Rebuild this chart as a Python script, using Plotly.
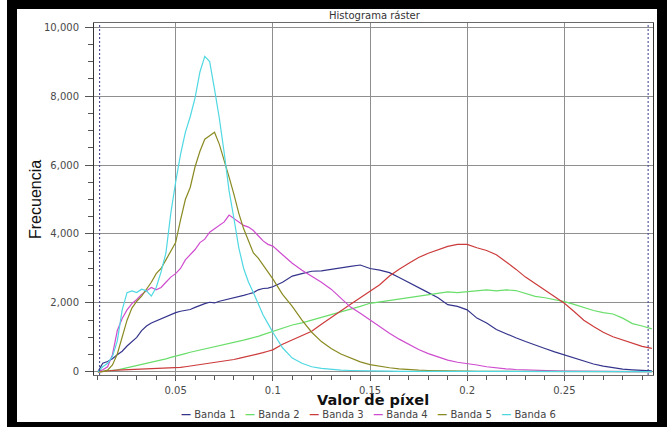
import plotly.graph_objects as go

# ---------------- data ----------------
pixel_values = [
    0.0100, 0.0125, 0.0150, 0.0175, 0.0200, 0.0225, 0.0250, 0.0275, 0.0300, 0.0325,
    0.0350, 0.0375, 0.0400, 0.0425, 0.0450, 0.0475, 0.0500, 0.0525, 0.0550, 0.0575,
    0.0600, 0.0625, 0.0650, 0.0675, 0.0700, 0.0725, 0.0750, 0.0775, 0.0800, 0.0825,
    0.0850, 0.0875, 0.0900, 0.0925, 0.0950, 0.0975, 0.1000,
    0.105, 0.110, 0.115, 0.120, 0.125, 0.130, 0.135, 0.140, 0.145, 0.150,
    0.155, 0.160, 0.165, 0.170, 0.175, 0.180, 0.185, 0.190, 0.195, 0.200,
    0.205, 0.210, 0.215, 0.220, 0.225, 0.230, 0.235, 0.240, 0.245, 0.250,
    0.255, 0.260, 0.265, 0.270, 0.275, 0.280, 0.285, 0.290, 0.295,
]

banda_1 = [
    0, 250, 300, 380, 500, 600, 750, 880, 1000, 1200,
    1330, 1420, 1480, 1560, 1620, 1680, 1720, 1760, 1790, 1810,
    1870, 1930, 1980, 2020, 2000, 2050, 2080, 2110, 2140, 2180,
    2220, 2260, 2300, 2380, 2420, 2430, 2470,
    2600, 2780, 2850, 2920, 2930, 2980, 3020, 3060, 3100, 3000,
    2950, 2880, 2740, 2600, 2450, 2300, 2150, 1950, 1900, 1800,
    1560, 1420, 1230, 1100, 990, 880, 770, 680, 580, 490,
    400, 300, 230, 170, 120, 80, 60, 40, 30,
]

banda_2 = [
    0, 10, 20, 40, 60, 90, 120, 150, 180, 210,
    240, 270, 300, 340, 380, 420, 450, 490, 530, 570,
    600, 640, 670, 700, 730, 760, 790, 820, 850, 880,
    920, 960, 990, 1030, 1080, 1130, 1170,
    1270, 1360, 1420, 1500, 1580, 1660, 1720, 1800, 1900, 1990,
    2030, 2070, 2110, 2150, 2190, 2230, 2270, 2320, 2300, 2330,
    2370, 2380, 2350, 2380, 2360, 2280, 2190, 2150, 2100, 2040,
    1960, 1860, 1780, 1720, 1680, 1560, 1400, 1330, 1250,
]

banda_3 = [
    0, 20, 30, 40, 50, 55, 60, 65, 70, 75,
    80, 85, 90, 95, 100, 105, 110, 130, 150, 170,
    185, 200, 220, 240, 260, 280, 300, 330, 360, 390,
    420, 450, 480, 520, 560, 600, 640,
    800, 920, 1050, 1180, 1380, 1580, 1780, 1960, 2150, 2330,
    2530, 2780, 2980, 3150, 3320, 3440, 3530, 3640, 3700, 3700,
    3600, 3520, 3400, 3200, 2980, 2750, 2560, 2350, 2170, 1990,
    1750, 1500, 1320, 1150, 1020, 920, 820, 740, 680,
]

banda_4 = [
    0, 60, 150, 500, 1200, 1550, 1800, 1980, 2100, 2250,
    2350, 2450, 2380, 2450, 2600, 2750, 2850, 3000, 3250, 3400,
    3550, 3750, 3850, 4050, 4150, 4250, 4350, 4550, 4450, 4350,
    4250, 4200, 4100, 3950, 3800, 3700, 3650,
    3400, 3150, 2950, 2780, 2600, 2400, 2150, 1880, 1700, 1500,
    1300, 1120, 950, 800, 650, 530, 430, 340, 280, 250,
    200, 150, 110, 90, 70, 55, 45, 35, 30, 25,
    20, 20, 15, 15, 15, 10, 10, 10, 10,
]

banda_5 = [
    0, 10, 50, 200, 520, 1000, 1500, 1850, 2050, 2200,
    2400, 2600, 2850, 3000, 3250, 3500, 3750, 4400, 5000, 5350,
    5950, 6400, 6750, 6850, 6950, 6600, 6150, 5650, 5150, 4600,
    4150, 3800, 3450, 3300, 3100, 2900, 2700,
    2250, 1900, 1500, 1150, 880, 680, 520, 400, 290, 210,
    160, 120, 90, 65, 50, 40, 30, 25, 20, 20,
    15, 15, 15, 10, 10, 10, 10, 10, 10, 10,
    10, 10, 10, 10, 10, 10, 10, 10, 10,
]

banda_6 = [
    0, 150, 250, 450, 900, 1800, 2300, 2350, 2300, 2400,
    2350, 2200, 2450, 2900, 3450, 4600, 5500, 6300, 6950, 7400,
    7950, 8700, 9150, 9000, 8200, 7350, 6350, 5250, 4450, 3600,
    3000, 2600, 2300, 1950, 1650, 1400, 1150,
    700, 400, 250, 150, 100, 70, 50, 40, 30, 25,
    20, 20, 15, 15, 15, 10, 10, 10, 10, 10,
    10, 10, 10, 10, 10, 10, 10, 10, 10, 10,
    10, 10, 10, 10, 10, 10, 10, 10, 10,
]

band_names = ["Banda 1", "Banda 2", "Banda 3", "Banda 4", "Banda 5", "Banda 6"]
band_series = [banda_1, banda_2, banda_3, banda_4, banda_5, banda_6]
band_colors = ["#34348c", "#6ade6a", "#cc3b3b", "#cf4ccf", "#8a8a22", "#4fd8e2"]

band_min = 0.0109   # dashed min marker
band_max = 0.2931   # dashed max marker

y_ticks = [0, 2000, 4000, 6000, 8000, 10000]
x_ticks = [0.05, 0.1, 0.15, 0.2, 0.25]

# ---------------- figure ----------------
W, H = 667, 427
L, R, T, B = 94, 14, 23, 52
PW, PH = W - L - R, H - T - B


def px_x(p):
    return (p - L) / PW


def px_y(p):
    return (H - B - p) / PH


fig = go.Figure()
for name, vals, col in zip(band_names, band_series, band_colors):
    fig.add_trace(go.Scatter(
        x=pixel_values, y=vals, mode="lines", name=name,
        line=dict(color=col, width=1.2), showlegend=False,
    ))

tickfont = dict(family="DejaVu Sans", size=10, color="#4a4a4a")

fig.update_layout(
    width=W, height=H,
    margin=dict(l=L, r=R, t=T, b=B, pad=0),
    paper_bgcolor="black",
    plot_bgcolor="white",
    xaxis=dict(
        range=[0.008, 0.2956], tickvals=x_ticks, ticktext=[str(v) for v in x_ticks],
        showgrid=True, gridcolor="#8f8f8f", gridwidth=1,
        ticks="outside", ticklen=5, tickcolor="#555", ticklabelstandoff=1,
        minor=dict(dtick=0.01, tick0=0, ticks="outside", ticklen=4, tickcolor="#555", showgrid=False),
        showline=True, linecolor="#6a6a6a", linewidth=1, mirror=True,
        tickfont=tickfont, zeroline=False,
    ),
    yaxis=dict(
        range=[-90, 10120], tickvals=y_ticks, tickformat=",d",
        showgrid=True, gridcolor="#8f8f8f", gridwidth=1,
        ticks="outside", ticklen=8, tickcolor="#555", ticklabelstandoff=4,
        minor=dict(dtick=500, tick0=0, ticks="outside", ticklen=5, tickcolor="#555", showgrid=False),
        showline=True, linecolor="#333", linewidth=1, mirror=True,
        tickfont=tickfont, zeroline=False,
    ),
    shapes=[
        dict(type="rect", xref="paper", yref="paper", layer="below",
             x0=px_x(17), x1=px_x(657), y0=px_y(422), y1=px_y(9),
             fillcolor="white", line=dict(width=0)),
        dict(type="rect", xref="paper", yref="paper", layer="below",
             x0=px_x(0), x1=px_x(7), y0=px_y(427), y1=px_y(0),
             fillcolor="white", line=dict(width=0)),
        dict(type="line", xref="x", yref="paper", x0=band_min, x1=band_min, y0=0, y1=1,
             line=dict(color="#3a3a8c", width=1, dash="2px,2px")),
        dict(type="line", xref="x", yref="paper", x0=band_max, x1=band_max, y0=0, y1=1,
             line=dict(color="#3a3a8c", width=1, dash="2px,2px")),
    ],
)

legend_text = "\u00a0\u00a0\u00a0".join(
    f'<span style="color:{c};font-weight:bold">—</span>\u00a0{n}'
    for n, c in zip(band_names, band_colors)
)

fig.add_annotation(text="Histograma ráster", xref="paper", yref="paper",
                   x=px_x(375), y=px_y(15), showarrow=False, borderpad=0,
                   xanchor="center", yanchor="middle",
                   font=dict(family="DejaVu Sans", size=10, color="#333"))
fig.add_annotation(text="<b>Valor de píxel</b>", xref="paper", yref="paper",
                   x=px_x(373), y=px_y(400), showarrow=False, borderpad=0,
                   xanchor="center", yanchor="middle",
                   font=dict(family="DejaVu Sans", size=14.5, color="#111"))
fig.add_annotation(text="Frecuencia", xref="paper", yref="paper",
                   x=px_x(35), y=px_y(200), showarrow=False, textangle=-90, borderpad=0,
                   xanchor="center", yanchor="middle",
                   font=dict(family="Liberation Sans Narrow, Arial Narrow, sans-serif", size=16, color="#111"))
fig.add_annotation(text=legend_text, xref="paper", yref="paper",
                   x=px_x(368), y=px_y(414), showarrow=False, borderpad=0,
                   xanchor="center", yanchor="middle",
                   font=dict(family="DejaVu Sans", size=10, color="#444"))

fig.write_html(
    "out.html",
    config={"displayModeBar": False},
    post_script="document.body.style.margin='0px';document.body.style.overflow='hidden';",
)
